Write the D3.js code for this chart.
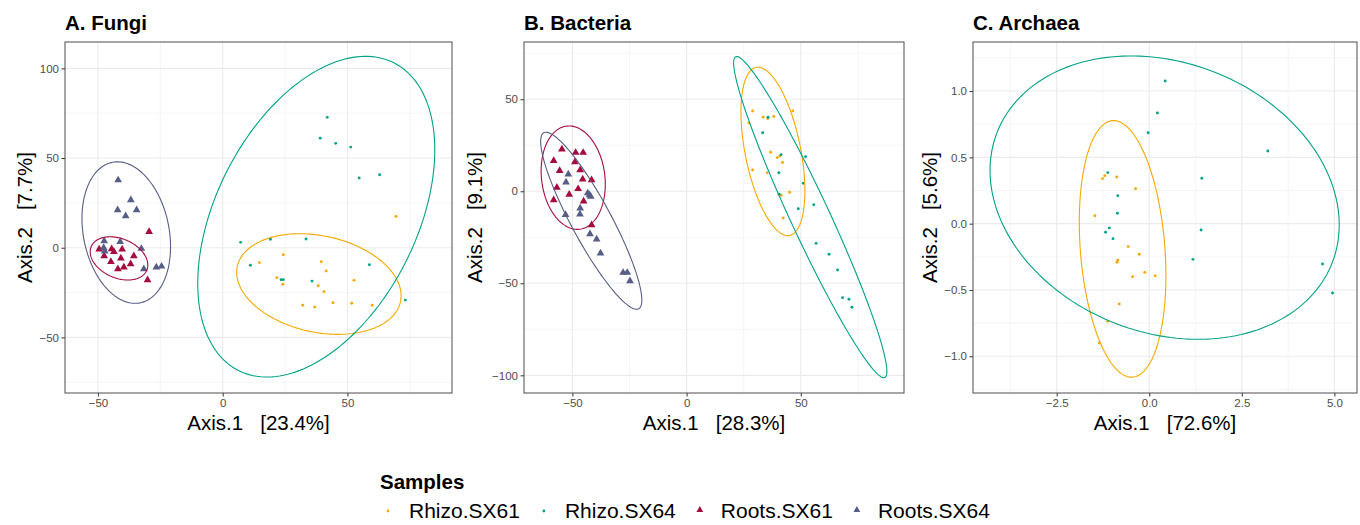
<!DOCTYPE html>
<html>
<head>
<meta charset="utf-8">
<script src="https://cdn.jsdelivr.net/npm/d3@7"></script>
<style>
  html, body { margin: 0; padding: 0; background: #fff; }
  svg { display: block; font-family: "Liberation Sans", Arial, Helvetica, sans-serif; }
</style>
</head>
<body>
<svg id="chart" width="1360" height="525"></svg>
<script>
// ---------------- DATA ----------------
const groups = ["Rhizo.SX61", "Rhizo.SX64", "Roots.SX61", "Roots.SX64"];
const groupColors = ["#F6A800", "#00A287", "#A50B3C", "#565D86"];
const groupShapes = ["dot", "dot", "triangle", "triangle"];

const panelTitles = ["A. Fungi", "B. Bacteria", "C. Archaea"];
const xAxisTitles = ["Axis.1   [23.4%]", "Axis.1   [28.3%]", "Axis.1   [72.6%]"];
const yAxisTitles = ["Axis.2   [7.7%]", "Axis.2   [9.1%]", "Axis.2   [5.6%]"];

const xTicksA = [-50, 0, 50];          const yTicksA = [-50, 0, 50, 100];
const xTicksB = [-50, 0, 50];          const yTicksB = [-100, -50, 0, 50];
const xTicksC = [-2.5, 0, 2.5, 5];     const yTicksC = [-1, -0.5, 0, 0.5, 1];
const xMinorA = [-25, 25, 75];         const yMinorA = [-75, -25, 25, 75];
const xMinorB = [-25, 25, 75];         const yMinorB = [-75, -25, 25, 75];
const xMinorC = [-3.75, -1.25, 1.25, 3.75]; const yMinorC = [-1.25, -0.75, -0.25, 0.25, 0.75, 1.25];
const xDomainA = [-63.2, 91.9];  const yDomainA = [-81, 114.7];
const xDomainB = [-71.2, 95.2];  const yDomainB = [-109.6, 81.1];
const xDomainC = [-4.76, 5.61];  const yDomainC = [-1.277, 1.37];

// Panel A: Fungi  [axis1, axis2]
const fungiRhizoSX61 = [[69.5,17.5],[24.3,-3.9],[14.7,-8.3],[39.5,-7.8],[41.5,-13.0],[21.7,-16.7],[24.1,-20.4],[38.3,-21.2],[40.6,-24.5],[52.6,-18.2],[32.1,-32.1],[36.9,-33.1],[44.2,-30.7],[51.7,-31.0],[59.9,-32.1]];
const fungiRhizoSX64 = [[41.9,72.7],[39.1,61.1],[45.3,58.2],[51.3,56.1],[54.7,38.9],[62.9,40.7],[7.2,3.0],[19.1,4.7],[33.4,4.9],[11.1,-9.8],[58.8,-9.5],[23.4,-17.8],[24.3,-17.8],[35.8,-18.6],[73.2,-29.2]];
const fungiRootsSX61 = [[-29.5,8.9],[-49.5,-0.9],[-44.5,-0.7],[-43.6,-2.2],[-40.3,-0.9],[-47.5,-4.6],[-40.8,-5.9],[-35.6,-4.6],[-44.8,-7.8],[-36.9,-9.1],[-39.6,-10.9],[-42.0,-11.9],[-30.1,-18.0]];
const fungiRootsSX64 = [[-41.9,37.7],[-36.8,26.6],[-42.1,21.0],[-38.9,17.7],[-34.5,21.0],[-47.5,3.7],[-41.1,3.3],[-47.7,0],[-47.3,-2.0],[-32.6,-0.5],[-31.6,-11.9],[-26.6,-10.9],[-24.5,-10.4]];

// Panel B: Bacteria
const bactRhizoSX61 = [[28.9,43.6],[46.5,43.6],[27.3,37.1],[33.5,40.2],[35.5,39.5],[38.2,40.6],[36.8,21.2],[39.7,18.3],[40.8,19.2],[42.0,15.6],[28.9,11.6],[35.3,10.1],[41.4,-2.2],[45.1,-0.5],[42.3,-14.5]];
const bactRhizoSX64 = [[35.7,40.2],[33.3,31.8],[41.4,19.9],[52.1,18.8],[40.4,10.1],[51.1,4.3],[40.5,-1.6],[55.7,-7.3],[48.9,-9.5],[56.7,-28.3],[62.4,-34.2],[66.1,-42.8],[68.3,-57.8],[71.1,-58.7],[72.4,-63.0]];
const bactRootsSX61 = [[-54.6,22.8],[-48.6,21.0],[-45.3,21.0],[-58.2,16.6],[-48.9,15.9],[-55.6,11.2],[-46.6,11.6],[-45.5,6.5],[-41.6,6.1],[-56.8,2.0],[-47.5,1.3],[-51.4,-1.8],[-58.2,-4.7],[-45.1,-5.4],[-41.6,-18.3]];
const bactRootsSX64 = [[-51.8,9.2],[-52.8,4.9],[-43.3,-1.0],[-42.5,-2.0],[-42.0,-2.8],[-46.6,-9.2],[-46.7,-12.5],[-53.0,-12.7],[-42.3,-23.2],[-39.4,-26.1],[-37.7,-33.7],[-27.8,-44.2],[-26.0,-44.2],[-24.8,-48.8]];

// Panel C: Archaea
const archRhizoSX61 = [[-1.26,0.340],[-1.20,0.362],[-0.88,0.352],[-0.37,0.264],[-1.47,0.060],[-0.57,-0.173],[-0.27,-0.231],[-0.85,-0.276],[-0.87,-0.291],[-0.12,-0.367],[-0.45,-0.400],[0.16,-0.392],[-0.81,-0.606],[-1.12,-0.736],[-1.35,-0.900]];
const archRhizoSX64 = [[0.43,1.076],[0.22,0.835],[-0.03,0.686],[3.20,0.548],[1.42,0.342],[-1.12,0.385],[-0.85,0.211],[-0.86,0.078],[-1.08,-0.032],[-1.18,-0.065],[-0.98,-0.113],[1.40,-0.048],[1.18,-0.269],[4.68,-0.304],[4.95,-0.523]];

// 95% ellipses: [centre x, centre y, half x-extent, half y-extent, y-offset at x-extreme]
const fungiEllipses = [[38.55,-20.25,32.95,28.05,-6.5],[37.5,17.3,47.5,89.4,37.2],[-41.55,-5.95,11.55,12.05,-3.7],[-38.65,8.45,17.75,39.45,-7.85]];
const bactEllipses  = [[37.8,21.65,14.0,45.75,-21.4],[54.15,-14.05,33.55,87.25,-83.75],[-49.65,7.4,14.05,28.1,-3.65],[-41.75,-16.0,22.15,48.1,-43.05]];
const archEllipses  = [[-0.72,-0.19,1.17,0.9675,-0.20],[0.415,0.1965,4.715,1.0685,-0.205]];

// ---------------- LAYOUT ----------------
const plotTop = 42, plotBottom = 393;
const panels = [
  { title: panelTitles[0], left: 65, right: 452, yTitleX: 32,
    xDomain: xDomainA, yDomain: yDomainA, xTicks: xTicksA, yTicks: yTicksA, xMinor: xMinorA, yMinor: yMinorA,
    fmt: d3.format("d"), series: [fungiRhizoSX61, fungiRhizoSX64, fungiRootsSX61, fungiRootsSX64], ellipses: fungiEllipses,
    xLab: xAxisTitles[0], yLab: yAxisTitles[0] },
  { title: panelTitles[1], left: 524, right: 904, yTitleX: 482,
    xDomain: xDomainB, yDomain: yDomainB, xTicks: xTicksB, yTicks: yTicksB, xMinor: xMinorB, yMinor: yMinorB,
    fmt: d3.format("d"), series: [bactRhizoSX61, bactRhizoSX64, bactRootsSX61, bactRootsSX64], ellipses: bactEllipses,
    xLab: xAxisTitles[1], yLab: yAxisTitles[1] },
  { title: panelTitles[2], left: 973, right: 1357, yTitleX: 937,
    xDomain: xDomainC, yDomain: yDomainC, xTicks: xTicksC, yTicks: yTicksC, xMinor: xMinorC, yMinor: yMinorC,
    fmt: d3.format(".1f"), series: [archRhizoSX61, archRhizoSX64], ellipses: archEllipses,
    xLab: xAxisTitles[2], yLab: yAxisTitles[2] }
];

const svg = d3.select("#chart");
const minus = s => s.replace(/-/g, "\u2212");
const triangle = d3.symbol().type(d3.symbolTriangle).size(26);

panels.forEach((p, pi) => {
  const x = d3.scaleLinear().domain(p.xDomain).range([p.left, p.right]);
  const y = d3.scaleLinear().domain(p.yDomain).range([plotBottom, plotTop]);
  const g = svg.append("g");

  const clipId = "clip" + pi;
  svg.append("clipPath").attr("id", clipId).append("rect")
    .attr("x", p.left).attr("y", plotTop).attr("width", p.right - p.left).attr("height", plotBottom - plotTop);

  // minor grid
  g.selectAll(".xmin").data(p.xMinor.filter(v => v > p.xDomain[0] && v < p.xDomain[1])).join("line")
    .attr("x1", d => x(d)).attr("x2", d => x(d)).attr("y1", plotTop).attr("y2", plotBottom)
    .attr("stroke", "#F0F0F0").attr("stroke-width", 0.6);
  g.selectAll(".ymin").data(p.yMinor.filter(v => v > p.yDomain[0] && v < p.yDomain[1])).join("line")
    .attr("y1", d => y(d)).attr("y2", d => y(d)).attr("x1", p.left).attr("x2", p.right)
    .attr("stroke", "#F0F0F0").attr("stroke-width", 0.6);
  // major grid
  g.selectAll(".xmaj").data(p.xTicks).join("line")
    .attr("x1", d => x(d)).attr("x2", d => x(d)).attr("y1", plotTop).attr("y2", plotBottom)
    .attr("stroke", "#EBEBEB").attr("stroke-width", 1.1);
  g.selectAll(".ymaj").data(p.yTicks).join("line")
    .attr("y1", d => y(d)).attr("y2", d => y(d)).attr("x1", p.left).attr("x2", p.right)
    .attr("stroke", "#EBEBEB").attr("stroke-width", 1.1);

  // axes
  const xAxis = d3.axisBottom(x).tickValues(p.xTicks).tickSize(3.5).tickPadding(2.5).tickFormat(d => minus(p.fmt(d)));
  const yAxis = d3.axisLeft(y).tickValues(p.yTicks).tickSize(3.5).tickPadding(2.5).tickFormat(d => minus(p.fmt(d)));
  const gx = svg.append("g").attr("transform", `translate(0,${plotBottom})`).call(xAxis);
  const gy = svg.append("g").attr("transform", `translate(${p.left},0)`).call(yAxis);
  [gx, gy].forEach(a => {
    a.select(".domain").remove();
    a.selectAll(".tick line").attr("stroke", "#333").attr("stroke-width", 1);
    a.selectAll(".tick text").attr("fill", "#4D4D4D").style("font-size", "11.5px")
      .style("font-family", '"Liberation Sans", Arial, sans-serif');
  });

  // points
  const pts = svg.append("g").attr("clip-path", `url(#${clipId})`);
  p.series.forEach((s, si) => {
    if (groupShapes[si] === "dot") {
      pts.selectAll(null).data(s).join("circle")
        .attr("cx", d => x(d[0])).attr("cy", d => y(d[1])).attr("r", 1.45)
        .attr("fill", groupColors[si]);
    } else {
      pts.selectAll(null).data(s).join("path")
        .attr("d", triangle)
        .attr("transform", d => `translate(${x(d[0])},${y(d[1])})`)
        .attr("fill", groupColors[si]);
    }
  });

  // ellipses
  const ang = d3.range(0, 361, 2).map(a => a * Math.PI / 180);
  const line = d3.line().x(d => d[0]).y(d => d[1]);
  p.ellipses.forEach((e, ei) => {
    const [cx, cy, w, h, dy] = e;
    const k = Math.sqrt(Math.max(h * h - dy * dy, 0));
    const path = ang.map(t => [x(cx + w * Math.cos(t)), y(cy + dy * Math.cos(t) + k * Math.sin(t))]);
    svg.append("path").attr("clip-path", `url(#${clipId})`)
      .attr("d", line(path)).attr("fill", "none")
      .attr("stroke", groupColors[ei]).attr("stroke-width", 1.1);
  });

  // frame
  svg.append("rect").attr("x", p.left).attr("y", plotTop)
    .attr("width", p.right - p.left).attr("height", plotBottom - plotTop)
    .attr("fill", "none").attr("stroke", "#4D4D4D").attr("stroke-width", 1);

  // titles
  svg.append("text").attr("x", p.left).attr("y", 29.5)
    .style("font-size", "20.5px").style("font-weight", "bold").attr("fill", "#000")
    .text(p.title);
  svg.append("text").attr("x", (p.left + p.right) / 2).attr("y", 430)
    .attr("text-anchor", "middle").style("font-size", "20.5px").style("white-space", "pre")
    .attr("fill", "#000").text(p.xLab);
  svg.append("text").attr("transform", `translate(${p.yTitleX},${(plotTop + plotBottom) / 2}) rotate(-90)`)
    .attr("text-anchor", "middle").style("font-size", "20.5px").style("white-space", "pre")
    .attr("fill", "#000").text(p.yLab);
});

// ---------------- LEGEND ----------------
const leg = svg.append("g");
leg.append("text").attr("x", 380).attr("y", 489)
  .style("font-size", "20.5px").style("font-weight", "bold").attr("fill", "#000").text("Samples");
let lx = 388;
groups.forEach((name, i) => {
  if (groupShapes[i] === "dot") {
    leg.append("circle").attr("cx", lx).attr("cy", 511).attr("r", 1.4).attr("fill", groupColors[i]);
  } else {
    leg.append("path").attr("d", d3.symbol().type(d3.symbolTriangle).size(20))
      .attr("transform", `translate(${lx},510)`).attr("fill", groupColors[i]);
  }
  const t = leg.append("text").attr("x", lx + 21).attr("y", 518)
    .style("font-size", "21px").attr("fill", "#000").text(name);
  lx = lx + 21 + t.node().getComputedTextLength() + 24;
});
</script>
</body>
</html>
